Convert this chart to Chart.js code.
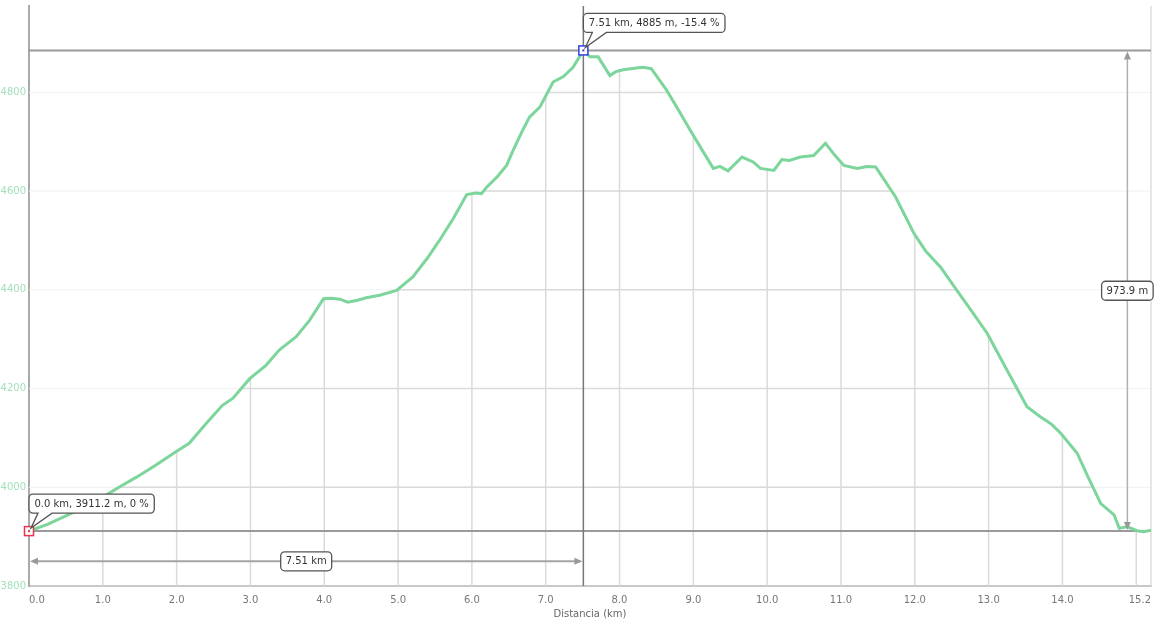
<!DOCTYPE html>
<html lang="es">
<head>
<meta charset="utf-8" />
<title>Perfil de elevación</title>
<script src="https://cdn.jsdelivr.net/npm/chart.js@4.4.0/dist/chart.umd.min.js"></script>
<style>
  html, body { margin: 0; padding: 0; background: #fff; }
</style>
</head>
<body>
<canvas id="chart" width="1160" height="634"></canvas>
<script>
// distance along the route (km) and elevation (m)
const distance = [
  0.00, 0.25, 0.50, 0.75, 1.00, 1.23, 1.45, 1.70, 1.99, 2.17,
  2.40, 2.62, 2.76, 2.99, 3.21, 3.39, 3.62, 3.80, 3.99, 4.10,
  4.21, 4.32, 4.45, 4.57, 4.75, 4.98, 5.20, 5.40, 5.56, 5.75,
  5.93, 6.05, 6.13, 6.20, 6.35, 6.47, 6.56, 6.67, 6.78, 6.92,
  7.10, 7.24, 7.37, 7.51, 7.60, 7.71, 7.87, 7.95, 8.05, 8.20,
  8.32, 8.43, 8.64, 8.80, 8.96, 9.12, 9.27, 9.36, 9.47, 9.66,
  9.81, 9.91, 10.09, 10.20, 10.30, 10.45, 10.63, 10.79, 10.92, 11.04,
  11.22, 11.35, 11.47, 11.74, 11.99, 12.15, 12.35, 12.57, 12.78, 12.98,
  13.25, 13.52, 13.70, 13.85, 13.98, 14.20, 14.35, 14.52, 14.70, 14.77,
  14.88, 15.01, 15.10, 15.20
];
const elevation = [
  3911, 3925, 3942, 3960, 3980, 4001, 4020, 4043, 4072, 4089,
  4129, 4166, 4180, 4220, 4247, 4278, 4305, 4338, 4382, 4383,
  4381, 4375, 4379, 4384, 4389, 4399, 4426, 4465, 4500, 4545,
  4593, 4596, 4595, 4608, 4630, 4652, 4683, 4718, 4750, 4770,
  4821, 4832, 4851, 4885, 4872, 4872, 4834, 4842, 4846, 4849,
  4851, 4848, 4804, 4764, 4723, 4683, 4646, 4650, 4641, 4669,
  4659, 4646, 4642, 4664, 4662, 4669, 4672, 4697, 4672, 4652,
  4646, 4650, 4649, 4588, 4514, 4478, 4446, 4399, 4355, 4312,
  4237, 4163, 4143, 4128, 4109, 4069, 4020, 3967, 3944, 3917,
  3920, 3912, 3910, 3913
];

const xTicks = [0, 1, 2, 3, 4, 5, 6, 7, 8, 9, 10, 11, 12, 13, 14, 15.2];
const xGrid = [1, 2, 3, 4, 5, 6, 7, 8, 9, 10, 11, 12, 13, 14, 15];
const yTicks = [3800, 4000, 4200, 4400, 4600, 4800];

// marked points and measurements
const startPoint = { km: 0.0, m: 3911.2, grade: 0 };
const peakPoint = { km: 7.51, m: 4885, grade: -15.4 };
const climbText = '973.9 m';
const distArrowAt = 3850;   // elevation where the distance arrow runs
const climbArrowAt = 14.88; // km where the climb arrow runs

const FONT = 'DejaVu Sans';

function roundBox(ctx, x, y, w, h, r, tail) {
  ctx.beginPath();
  ctx.moveTo(x + r, y);
  ctx.lineTo(x + w - r, y);
  ctx.arcTo(x + w, y, x + w, y + r, r);
  ctx.lineTo(x + w, y + h - r);
  ctx.arcTo(x + w, y + h, x + w - r, y + h, r);
  if (tail) {
    ctx.lineTo(tail.x2, y + h);
    ctx.lineTo(tail.tx, tail.ty);
    ctx.lineTo(tail.x1, y + h);
  }
  ctx.lineTo(x + r, y + h);
  ctx.arcTo(x, y + h, x, y + h - r, r);
  ctx.lineTo(x, y + r);
  ctx.arcTo(x, y, x + r, y, r);
  ctx.closePath();
  ctx.fillStyle = '#fff';
  ctx.fill();
  ctx.strokeStyle = '#555';
  ctx.lineWidth = 1.3;
  ctx.stroke();
}

function labelBox(ctx, text, cx, cy) {
  ctx.font = '10px "' + FONT + '"';
  const w = ctx.measureText(text).width + 10, h = 19;
  roundBox(ctx, cx - w / 2, cy - h / 2, w, h, 4);
  ctx.fillStyle = '#333';
  ctx.textAlign = 'center';
  ctx.textBaseline = 'middle';
  ctx.fillText(text, cx, cy + 0.5);
}

function callout(ctx, text, px, py) {
  ctx.font = '10px "' + FONT + '"';
  const w = ctx.measureText(text).width + 11, h = 19;
  const bx = px, by = py - 18 - h;
  roundBox(ctx, bx, by, w, h, 4, { x1: px + 9, x2: px + 23, tx: px + 2, ty: py - 3 });
  ctx.fillStyle = '#333';
  ctx.textAlign = 'left';
  ctx.textBaseline = 'middle';
  ctx.fillText(text, bx + 5.5, by + h / 2 + 0.5);
}

function arrowHead(ctx, x, y, dx, dy) {
  const L = 8, W = 3.5;
  ctx.beginPath();
  ctx.moveTo(x, y);
  ctx.lineTo(x - dx * L - dy * W, y - dy * L + dx * W);
  ctx.lineTo(x - dx * L + dy * W, y - dy * L - dx * W);
  ctx.closePath();
  ctx.fillStyle = '#999';
  ctx.fill();
}

function marker(ctx, x, y, color) {
  ctx.fillStyle = '#fff';
  ctx.fillRect(x - 4.5, y - 4.5, 9, 9);
  ctx.strokeStyle = color;
  ctx.lineWidth = 1.5;
  ctx.strokeRect(x - 4.5, y - 4.5, 9, 9);
  ctx.fillStyle = color;
  ctx.fillRect(x - 1, y - 1, 2, 2);
}

const profilePlugin = {
  id: 'profile',
  beforeDatasetsDraw(chart) {
    const { ctx, chartArea: a, scales: { x, y } } = chart;
    const pts = chart.getDatasetMeta(0).data;
    ctx.save();
    // faint horizontal grid over the whole area
    ctx.strokeStyle = '#f0f0f0';
    ctx.lineWidth = 1;
    yTicks.slice(1).forEach(v => {
      const py = y.getPixelForValue(v);
      ctx.beginPath(); ctx.moveTo(a.left, py); ctx.lineTo(a.right, py); ctx.stroke();
    });
    // right border
    ctx.strokeStyle = '#dedede';
    ctx.lineWidth = 1.5;
    ctx.beginPath(); ctx.moveTo(a.right, a.top); ctx.lineTo(a.right, a.bottom); ctx.stroke();

    // stronger grid only under the profile
    ctx.save();
    ctx.beginPath();
    ctx.moveTo(pts[0].x, a.bottom);
    pts.forEach(p => ctx.lineTo(p.x, p.y));
    ctx.lineTo(pts[pts.length - 1].x, a.bottom);
    ctx.closePath();
    ctx.clip();
    ctx.strokeStyle = '#dadada';
    ctx.lineWidth = 1.5;
    yTicks.slice(1).forEach(v => {
      const py = y.getPixelForValue(v);
      ctx.beginPath(); ctx.moveTo(a.left, py); ctx.lineTo(a.right, py); ctx.stroke();
    });
    xGrid.forEach(v => {
      const px = x.getPixelForValue(v);
      ctx.beginPath(); ctx.moveTo(px, a.top); ctx.lineTo(px, a.bottom); ctx.stroke();
    });
    ctx.restore();

    // reference lines
    const y0 = y.getPixelForValue(startPoint.m);
    const y1 = y.getPixelForValue(peakPoint.m);
    const xp = x.getPixelForValue(peakPoint.km);
    ctx.strokeStyle = '#9a9a9a';
    ctx.lineWidth = 2;
    [y0, y1].forEach(py => {
      ctx.beginPath(); ctx.moveTo(a.left, py); ctx.lineTo(a.right, py); ctx.stroke();
    });
    ctx.strokeStyle = '#777';
    ctx.lineWidth = 1.5;
    ctx.beginPath(); ctx.moveTo(xp, a.top); ctx.lineTo(xp, a.bottom); ctx.stroke();
    ctx.restore();
  },
  afterDatasetsDraw(chart) {
    const { ctx, scales: { x, y } } = chart;
    ctx.save();
    const xs = x.getPixelForValue(startPoint.km);
    const xp = x.getPixelForValue(peakPoint.km);
    const y0 = y.getPixelForValue(startPoint.m);
    const y1 = y.getPixelForValue(peakPoint.m);

    // distance arrow
    const ya = y.getPixelForValue(distArrowAt);
    ctx.strokeStyle = '#a5a5a5';
    ctx.lineWidth = 2;
    ctx.beginPath(); ctx.moveTo(xs + 4, ya); ctx.lineTo(xp - 4, ya); ctx.stroke();
    arrowHead(ctx, xs + 1, ya, -1, 0);
    arrowHead(ctx, xp - 1, ya, 1, 0);
    labelBox(ctx, peakPoint.km.toFixed(2) + ' km', (xs + xp) / 2, ya);

    // climb arrow
    const xa = x.getPixelForValue(climbArrowAt);
    ctx.strokeStyle = '#b0b0b0';
    ctx.lineWidth = 1.5;
    ctx.beginPath(); ctx.moveTo(xa, y1 + 4); ctx.lineTo(xa, y0 - 4); ctx.stroke();
    arrowHead(ctx, xa, y1 + 1, 0, -1);
    arrowHead(ctx, xa, y0 - 1, 0, 1);
    labelBox(ctx, climbText, xa, (y0 + y1) / 2);

    // markers and callouts
    marker(ctx, xs, y0, '#e8364e');
    marker(ctx, xp, y1, '#3340e6');
    callout(ctx, startPoint.km.toFixed(1) + ' km, ' + startPoint.m.toFixed(1) + ' m, ' + startPoint.grade + ' %', xs, y0);
    callout(ctx, peakPoint.km.toFixed(2) + ' km, ' + peakPoint.m + ' m, ' + peakPoint.grade + ' %', xp, y1);
    ctx.restore();
  }
};

new Chart(document.getElementById('chart'), {
  type: 'line',
  data: {
    datasets: [{
      data: distance.map((d, i) => ({ x: d, y: elevation[i] })),
      borderColor: 'rgb(124, 213, 154)',
      borderWidth: 3,
      pointRadius: 0,
      tension: 0,
      fill: false
    }]
  },
  options: {
    responsive: false,
    animation: false,
    events: [],
    layout: { padding: { top: 6, right: 9, left: 0, bottom: 0 } },
    plugins: { legend: { display: false }, tooltip: { enabled: false } },
    scales: {
      x: {
        type: 'linear',
        min: 0,
        max: 15.2,
        grid: { display: false, drawTicks: false },
        border: { color: '#c8c8c8', width: 2 },
        afterBuildTicks: s => { s.ticks = xTicks.map(v => ({ value: v })); },
        ticks: {
          align: 'inner',
          padding: 8,
          autoSkip: false,
          maxRotation: 0,
          color: '#777',
          font: { family: FONT, size: 10 },
          callback: v => Number(v).toFixed(1)
        },
        title: {
          display: true,
          text: 'Distancia (km)',
          color: '#666',
          font: { family: FONT, size: 10 },
          padding: { top: 4, bottom: 14 }
        },
        afterFit: s => { s.height = 48; s.paddingLeft = 0; s.paddingRight = 0; }
      },
      y: {
        type: 'linear',
        min: 3800,
        max: 4975,
        grid: { display: false, drawTicks: false },
        border: { color: '#aaaaaa', width: 2 },
        afterBuildTicks: s => { s.ticks = yTicks.map(v => ({ value: v })); },
        ticks: {
          padding: 3,
          color: '#a3e0bb',
          font: { family: FONT, size: 10 },
          callback: v => v
        },
        afterFit: s => { s.width = 29; s.paddingTop = 0; s.paddingBottom = 0; }
      }
    }
  },
  plugins: [profilePlugin]
});
</script>
</body>
</html>
